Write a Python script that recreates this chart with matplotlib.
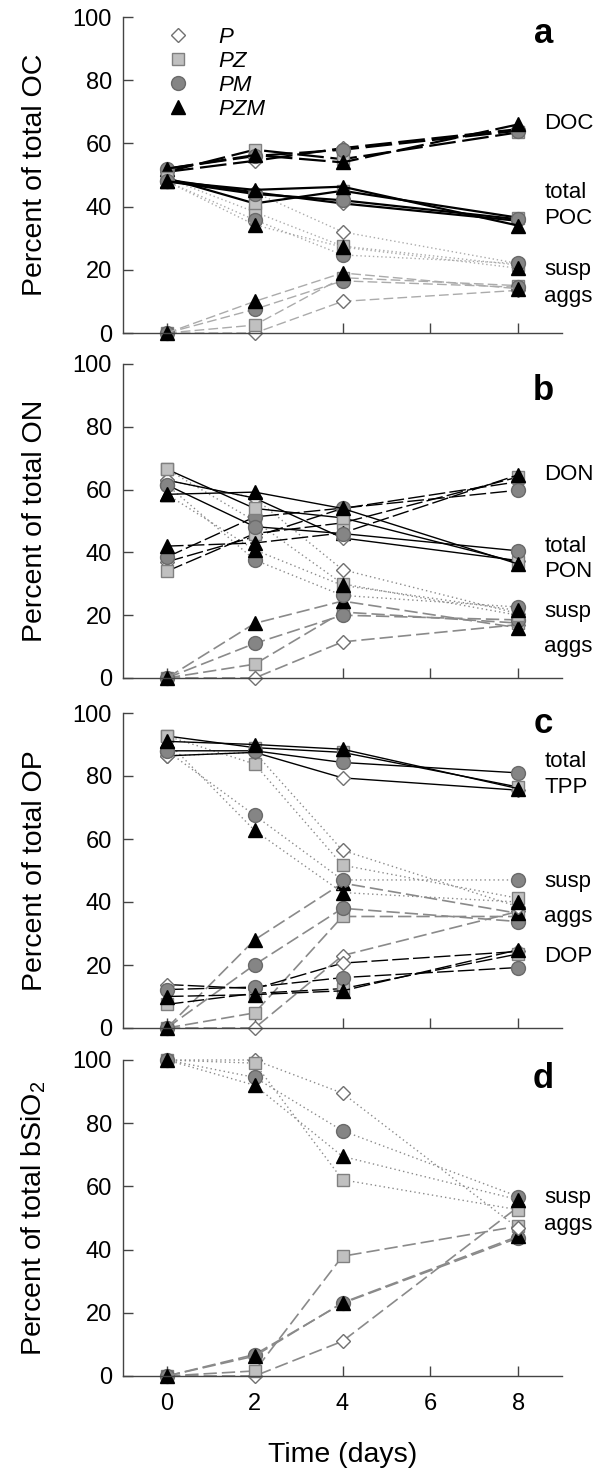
import matplotlib
matplotlib.use('Agg')
import matplotlib.pyplot as plt
from matplotlib.lines import Line2D

plt.rcParams['font.family'] = ['Liberation Sans', 'DejaVu Sans']
plt.rcParams['mathtext.fontset'] = 'custom'
plt.rcParams['mathtext.rm'] = 'Liberation Sans'
plt.rcParams['mathtext.it'] = 'Liberation Sans:italic'

# ---------------- data ----------------
days = [0, 2, 4, 8]
treatments = ['P', 'PZ', 'PM', 'PZM']
x_ticks = [0, 2, 4, 6, 8]
y_ticks = [0, 20, 40, 60, 80, 100]

# panel a : organic carbon (order P, PZ, PM, PZM)
oc_doc = [[51, 54.5, 58.5, 64.5], [51, 58, 55, 63.5], [52, 56, 58, 64], [52, 56.3, 54, 66]]
oc_total = [[48.5, 44.5, 41, 35.5], [49, 41, 45, 36.5], [48, 44, 42, 36], [48, 45.3, 46.3, 34]]
oc_susp = [[48.5, 44.5, 32, 22], [49, 38.3, 27.5, 21.5], [48, 35.8, 24.7, 22], [48, 34.2, 27.2, 20.5]]
oc_aggs = [[0, 0, 10, 13.5], [0, 2.5, 17.5, 15], [0, 7.5, 16.5, 14.5], [0, 10, 19, 14]]

# panel b : organic nitrogen
on_don = [[37, 45, 54, 62.5], [34, 46, 49.4, 64], [38.5, 51.3, 54.1, 59.8], [42, 43, 46.2, 64.7]]
on_total = [[63, 57.3, 44.6, 37.4], [66.5, 54, 51, 36.8], [61.5, 48.2, 46, 40.5], [58.5, 59.2, 54, 36.3]]
on_susp = [[63, 57.3, 34.5, 20.5], [66.5, 50, 30, 20], [61.5, 37.6, 26.3, 22.6], [58.5, 40.8, 29.5, 21.5]]
on_aggs = [[0, 0, 11.5, 17], [0, 4.4, 21, 17.5], [0, 11, 20, 18.5], [0, 17.4, 24.5, 16]]

# panel c : organic phosphorus
op_dop = [[13.8, 12.5, 20.6, 24.3], [7.5, 11, 12.5, 23.5], [12.2, 13, 16, 19.2], [10, 10.6, 11.8, 24.8]]
op_total = [[86.4, 87.5, 79.4, 75.5], [92.7, 89, 87.5, 76.5], [88, 88, 84.3, 81], [91, 90, 88.5, 76]]
op_susp = [[86.4, 87.5, 56.4, 38.5], [92.7, 83.8, 51.7, 41.2], [88, 67.5, 47, 47], [91, 62.7, 43, 40]]
op_aggs = [[0, 0, 23, 37], [0, 4.8, 35.4, 35.4], [0, 20.1, 38, 33.8], [0, 28, 46, 36.4]]

# panel d : biogenic silica
si_susp = [[100, 100, 89.5, 46.8], [100, 99, 62.1, 52.6], [100, 94.5, 77.6, 56.8], [100, 92, 69.5, 55.8]]
si_aggs = [[0, 0, 11, 53.5], [0, 1.6, 37.9, 47.4], [0, 6.8, 23, 43.7], [0, 6.3, 23.2, 44.2]]

ylabels = ['Percent of total OC', 'Percent of total ON',
           'Percent of total OP', 'Percent of total bSiO$_2$']
panel_letters = ['a', 'b', 'c', 'd']

# ---------------- styles ----------------
mstyle = {
    'P':   dict(marker='D', ms=7.6, mfc='white', mec='#707070', mew=1.0),
    'PZ':  dict(marker='s', ms=9.0, mfc='#c0c0c0', mec='#808080', mew=1.0),
    'PM':  dict(marker='o', ms=10.0, mfc='#858585', mec='#6a6a6a', mew=1.0),
    'PZM': dict(marker='^', ms=10.5, mfc='black', mec='black', mew=1.0),
}

fig = plt.figure(figsize=(6.01, 14.69), dpi=100)
W = 601.0
H = 1469.0
left, right = 123 / W, 562 / W
panel_px = [(17, 333), (364, 678), (713, 1028), (1060, 1376)]
axes = []
for (top, bot) in panel_px:
    ax = fig.add_axes([left, 1 - bot / H, right - left, (bot - top) / H])
    axes.append(ax)


def draw_group(ax, data, ls, color, lw, dashes=None):
    for i, t in enumerate(treatments):
        kw = dict(ls=ls, color=color, lw=lw, clip_on=False)
        if dashes is not None:
            kw['dashes'] = dashes
        ax.plot(days, data[i], **kw, **mstyle[t])


def style_axis(ax, ylabel, bottom):
    ax.set_xlim(-1, 9)
    ax.set_ylim(0, 100)
    for s in ['top', 'right']:
        ax.spines[s].set_visible(False)
    for s in ['left', 'bottom']:
        ax.spines[s].set_color('#444444')
        ax.spines[s].set_linewidth(1.0)
    ax.set_xticks(x_ticks)
    ax.set_yticks(y_ticks)
    ax.tick_params(axis='both', direction='in', length=7, width=1.0,
                   color='#444444', labelsize=17)
    ax.tick_params(axis='y', pad=8)
    ax.tick_params(axis='x', pad=12)
    if not bottom:
        ax.tick_params(axis='x', labelbottom=False)
    ax.set_ylabel(ylabel, fontsize=20.5)
    ax.yaxis.set_label_coords(-0.17, 0.5)


gray_a = '#ababab'
gray = '#8a8a8a'

# panel a
ax = axes[0]
draw_group(ax, oc_aggs, '--', gray_a, 1.0, (7, 3))
draw_group(ax, oc_susp, ':', gray_a, 1.0, (1, 2))
draw_group(ax, oc_doc, '--', 'black', 1.6, (12, 3))
draw_group(ax, oc_total, '-', 'black', 1.6)
style_axis(ax, ylabels[0], False)
for txt, y in [('DOC', 64.6), ('total', 42.7), ('POC', 34.5), ('susp', 18.4), ('aggs', 9.8)]:
    ax.text(8.6, y, txt, fontsize=16, ha='left', va='baseline', clip_on=False)
handles = [Line2D([], [], ls='none', **mstyle[t]) for t in treatments]
ax.legend(handles, treatments, loc='upper left', bbox_to_anchor=(0.1, 0.968),
          frameon=False, borderpad=0, borderaxespad=0, handlelength=1.0,
          handletextpad=1.3, labelspacing=0.13,
          prop={'size': 16, 'style': 'italic'})

# panel b
ax = axes[1]
draw_group(ax, on_aggs, '--', gray, 1.2, (8, 3))
draw_group(ax, on_susp, ':', gray, 1.0, (1, 2.2))
draw_group(ax, on_don, '--', 'black', 1.0, (12, 3))
draw_group(ax, on_total, '-', 'black', 1.0)
style_axis(ax, ylabels[1], False)
for txt, y in [('DON', 63.2), ('total', 40.0), ('PON', 32.1), ('susp', 19.5), ('aggs', 8.4)]:
    ax.text(8.6, y, txt, fontsize=16, ha='left', va='baseline', clip_on=False)

# panel c
ax = axes[2]
draw_group(ax, op_aggs, '--', gray, 1.2, (8, 3))
draw_group(ax, op_susp, ':', gray, 1.0, (1, 2.2))
draw_group(ax, op_dop, '--', 'black', 1.0, (12, 3))
draw_group(ax, op_total, '-', 'black', 1.0)
style_axis(ax, ylabels[2], False)
for txt, y in [('total', 82.9), ('TPP', 74.6), ('susp', 44.8), ('aggs', 33.7), ('DOP', 21.0)]:
    ax.text(8.6, y, txt, fontsize=16, ha='left', va='baseline', clip_on=False)

# panel d
ax = axes[3]
draw_group(ax, si_aggs, '--', gray, 1.2, (8, 3))
draw_group(ax, si_susp, ':', gray, 1.0, (1, 2.2))
style_axis(ax, ylabels[3], True)
for txt, y in [('susp', 54.7), ('aggs', 46.3)]:
    ax.text(8.6, y, txt, fontsize=16, ha='left', va='baseline', clip_on=False)
ax.set_xlabel('Time (days)', fontsize=20.5, labelpad=20)

letter_y = [91.8, 88.5, 93.7, 91.1]
for ax, letter, ly in zip(axes, panel_letters, letter_y):
    ax.text(8.58, ly, letter, fontsize=25, fontweight='bold', ha='center',
            va='baseline', clip_on=False)

fig.savefig('out.png', dpi=100)
